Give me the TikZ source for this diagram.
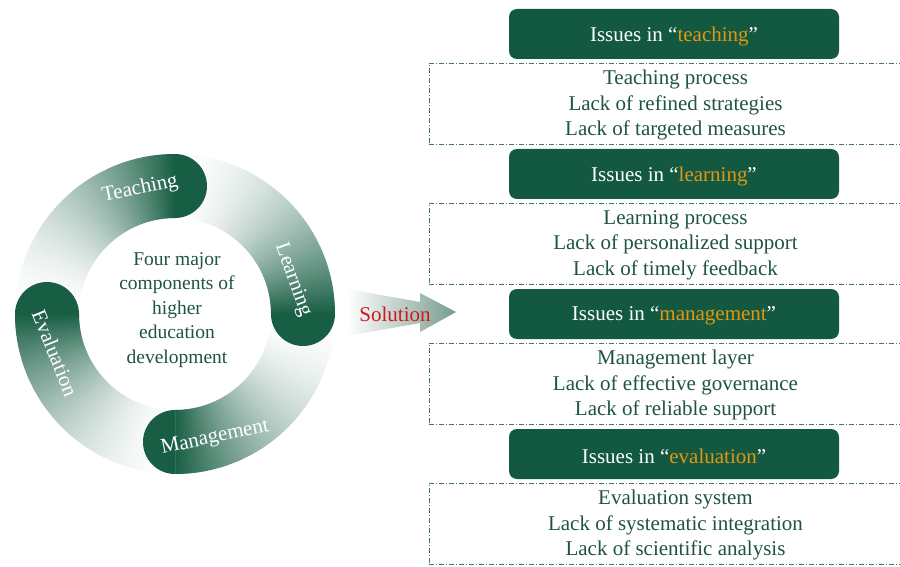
\documentclass[tikz,border=0pt]{standalone}
\usepackage{fontspec}
\setmainfont{Liberation Serif}
\definecolor{deepgreen}{RGB}{19,89,65}
\definecolor{bandgreen}{RGB}{24,94,68}
\definecolor{inktext}{RGB}{30,84,64}
\definecolor{framegrey}{RGB}{72,118,102}
\definecolor{accent}{RGB}{226,150,18}
\definecolor{solred}{RGB}{215,20,30}
\definecolor{arrowgreen}{RGB}{118,156,140}
\begin{document}
\begin{tikzpicture}[x=1pt,y=1pt,
  issuebox/.style={fill=deepgreen, rounded corners=8pt, minimum width=330pt,
    minimum height=50pt, text=white, inner sep=0pt, font=\fontsize{21}{25}\selectfont},
  detailframe/.style={draw=framegrey, line width=0.9pt,
    dash pattern=on 5pt off 2pt on 1pt off 2pt,
    minimum width=482pt, minimum height=81pt, inner sep=0pt},
  detailtext/.style={text=inktext, align=center, inner sep=0pt,
    font=\fontsize{21}{25.5}\selectfont},
  bandlabel/.style={text=white, inner sep=0pt, font=\fontsize{21}{25}\selectfont},
  coretext/.style={text=inktext, align=center, inner sep=0pt,
    font=\fontsize{19.5}{24.5}\selectfont},
  sollabel/.style={text=solred, inner sep=0pt, font=\fontsize{21}{25}\selectfont}
]
\useasboundingbox (0,0) rectangle (900,566);
\clip (0,0) rectangle (900,566);

% ---- cycle of four components: shaded quarter bands with rounded heads ----
\def\cx{175}\def\cy{252}\def\rin{96}\def\rout{160}
\foreach \h in {90,0,-90,180} {
  \foreach \k in {0,...,89} {
    \pgfmathsetmacro{\p}{100*((\k+0.5)/90)^1.8}
    \pgfmathsetmacro{\aa}{\h+90-\k}
    \pgfmathsetmacro{\ab}{\h+90-\k-1.5}
    \fill[bandgreen!\p!white, shift={(\cx,\cy)}]
      (\aa:\rin) arc[start angle=\aa, end angle=\ab, radius=\rin]
      -- (\ab:\rout) arc[start angle=\ab, end angle=\aa, radius=\rout] -- cycle;
  }
}
% rounded head of each band
\foreach \h in {90,0,-90,180} {
  \pgfmathsetmacro{\hb}{\h-180}
  \fill[bandgreen, shift={(\cx,\cy)}]
    (\h:\rout) arc[start angle=\h, end angle=\hb, radius=32] -- cycle;
}

\node[bandlabel, rotate=12]  (teach) at (140,377) {Teaching};
\node[bandlabel, rotate=-70] (learn) at (293,286) {Learning};
\node[bandlabel, rotate=12]  (manage) at (215,128) {Management};
\node[bandlabel, rotate=-68] (eval) at (55,213) {Evaluation};

\node[coretext] (core) at (177,256)
  {Four major\\components of\\higher\\education\\development};

% ---- solution arrow ----
\shade[left color=white, right color=arrowgreen]
  (347,277) -- (420,264) -- (420,273) -- (456,254) -- (420,234)
  -- (420,243) -- (347,230) -- cycle;
\node[sollabel] (sol) at (395,252) {Solution};

% ---- issue panels ----
\foreach \i/\w/\la/\lb/\lc in {
    0/teaching/Teaching process/Lack of refined strategies/Lack of targeted measures,
    1/learning/Learning process/Lack of personalized support/Lack of timely feedback,
    2/management/Management layer/Lack of effective governance/Lack of reliable support,
    3/evaluation/Evaluation system/Lack of systematic integration/Lack of scientific analysis} {
  \node[detailframe] (frame\i) at (670,462.5-140*\i) {};
  \node[issuebox] (issue\i) at (674,532-140*\i) {};
  \node[text=white, inner sep=0pt, font=\fontsize{21}{25}\selectfont]
    (title\i) at (674,530-140*\i) {Issues in “\textcolor{accent}{\w}”};
  \node[detailtext] (detail\i) at (675.5,461-140*\i) {\la\\\lb\\\lc};
}
\end{tikzpicture}
\end{document}
